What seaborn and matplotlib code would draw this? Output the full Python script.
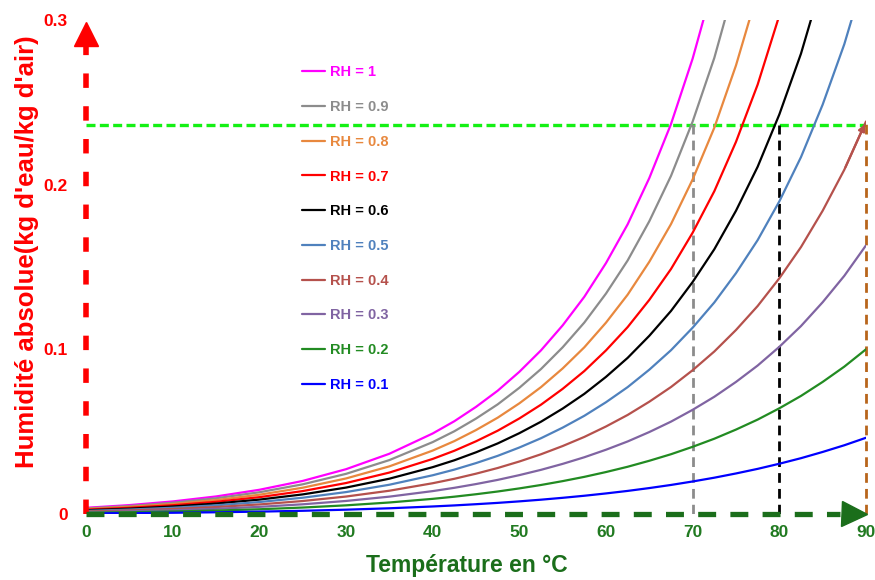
import matplotlib.pyplot as plt
import pandas as pd
import seaborn as sns

# temperatures (°C) and absolute humidity (kg water / kg dry air)
temperature = [0, 5, 10, 15, 20, 25, 30, 35, 40, 42.5, 45, 47.5, 50, 52.5, 55, 57.5, 60, 62.5,
               65, 67.5, 70, 72.5, 75, 77.5, 80, 82.5, 85, 87.5, 90]

rh_10 = [0.00038, 0.00054, 0.00075, 0.00105, 0.00144, 0.00195, 0.00262, 0.00347, 0.00457, 0.00521,
         0.00595, 0.00675, 0.00767, 0.00869, 0.00983, 0.01108, 0.01249, 0.01402, 0.01575, 0.01764,
         0.01975, 0.02205, 0.02462, 0.02741, 0.03052, 0.0339, 0.03768, 0.04175, 0.04629]
rh_20 = [0.00075, 0.00107, 0.00151, 0.0021, 0.00288, 0.00392, 0.00526, 0.00699, 0.0092, 0.01051,
         0.012, 0.01366, 0.01554, 0.01762, 0.01997, 0.02256, 0.02548, 0.02869, 0.03233, 0.0363,
         0.04081, 0.04572, 0.05127, 0.05734, 0.06419, 0.07171, 0.08021, 0.0895, 0.10002]
rh_30 = [0.00113, 0.00161, 0.00227, 0.00316, 0.00434, 0.00589, 0.00792, 0.01054, 0.0139, 0.0159,
         0.01818, 0.02071, 0.02361, 0.02682, 0.03044, 0.03446, 0.03903, 0.04406, 0.04978, 0.05609,
         0.06328, 0.0712, 0.08021, 0.09016, 0.10152, 0.11414, 0.12861, 0.14466, 0.16314]
rh_40 = [0.0015, 0.00215, 0.00303, 0.00422, 0.0058, 0.00788, 0.0106, 0.01413, 0.01868, 0.02138,
         0.02448, 0.02793, 0.03188, 0.03628, 0.04127, 0.04681, 0.05315, 0.06016, 0.0682, 0.07711,
         0.08734, 0.0987, 0.11175, 0.12632, 0.14314, 0.16211, 0.18417, 0.20909, 0.23836]
rh_50 = [0.00188, 0.00269, 0.00379, 0.00528, 0.00726, 0.00988, 0.01331, 0.01777, 0.02352, 0.02695,
         0.03091, 0.03531, 0.04037, 0.04602, 0.05245, 0.05964, 0.06788, 0.07706, 0.08765, 0.09947,
         0.11315, 0.12847, 0.14626, 0.16634, 0.18985, 0.21676, 0.24862, 0.28535, 0.32953]
rh_60 = [0.00226, 0.00323, 0.00455, 0.00634, 0.00874, 0.0119, 0.01604, 0.02144, 0.02844, 0.03262,
         0.03746, 0.04285, 0.04908, 0.05605, 0.06402, 0.07296, 0.08328, 0.09483, 0.10823, 0.12331,
         0.1409, 0.1608, 0.18417, 0.21089, 0.24264, 0.27959, 0.32427, 0.37701, 0.4423]
rh_70 = [0.00263, 0.00377, 0.00532, 0.0074, 0.01022, 0.01392, 0.0188, 0.02516, 0.03344, 0.0384,
         0.04415, 0.05058, 0.05802, 0.06639, 0.076, 0.08682, 0.09937, 0.11352, 0.13004, 0.14878,
         0.17084, 0.19605, 0.22602, 0.26078, 0.30276, 0.35261, 0.4143, 0.48927, 0.5854]
rh_80 = [0.00301, 0.00431, 0.00608, 0.00847, 0.0117, 0.01596, 0.02158, 0.02892, 0.03851, 0.04427,
         0.05097, 0.05848, 0.0672, 0.07705, 0.0884, 0.10124, 0.11622, 0.13321, 0.15319, 0.17605,
         0.20321, 0.23462, 0.27245, 0.31702, 0.37187, 0.43849, 0.5233, 0.62994, 0.7729]
rh_90 = [0.00339, 0.00485, 0.00685, 0.00956, 0.0132, 0.01802, 0.02438, 0.03273, 0.04366, 0.05025,
         0.05794, 0.06657, 0.07664, 0.08804, 0.10124, 0.11627, 0.13388, 0.15398, 0.17782, 0.20532,
         0.23835, 0.27701, 0.32427, 0.38091, 0.45214, 0.541, 0.6579, 0.81141, 1.0294]
rh_100 = [0.00377, 0.0054, 0.00763, 0.01065, 0.0147, 0.02008, 0.0272, 0.03658, 0.04889, 0.05634,
          0.06505, 0.07486, 0.08634, 0.09939, 0.11456, 0.13192, 0.15239, 0.17593, 0.20406, 0.23682,
          0.27661, 0.32381, 0.38245, 0.45414, 0.54652, 0.66539, 0.8283, 1.05441, 1.4016]

rh_labels = ['RH = 1', 'RH = 0.9', 'RH = 0.8', 'RH = 0.7', 'RH = 0.6',
             'RH = 0.5', 'RH = 0.4', 'RH = 0.3', 'RH = 0.2', 'RH = 0.1']
rh_series = [rh_100, rh_90, rh_80, rh_70, rh_60, rh_50, rh_40, rh_30, rh_20, rh_10]
rh_colors = ['#ff00ff', '#8c8c8c', '#e8883e', '#ff0000', '#000000',
             '#4f81bd', '#b5514c', '#8064a2', '#228b22', '#0000ff']

target_level = 0.236            # dashed green reference level
marked_temps = [70, 80, 90]     # vertical dashed markers
marked_colors = ['#8c8c8c', '#000000', '#b8651b']

# long table for seaborn
rows = []
for label, values in zip(rh_labels, rh_series):
    for t, v in zip(temperature, values):
        rows.append({'T': t, 'AH': v, 'RH': label})
df = pd.DataFrame(rows)

sns.set_style('white')
plt.rcParams['font.family'] = ['Liberation Sans', 'DejaVu Sans']
plt.rcParams['font.weight'] = 'bold'

red = '#ff0000'
dkgreen = '#1b6e1b'

fig = plt.figure(figsize=(8.75, 5.8), dpi=100)
ax = fig.add_axes([0.0983, 0.1138, 0.8914, 0.8517])

sns.lineplot(data=df, x='T', y='AH', hue='RH', hue_order=rh_labels,
             palette=rh_colors, linewidth=1.6, ax=ax, zorder=3)

ax.set_xlim(0, 90)
ax.set_ylim(0, 0.3)
for s in ax.spines.values():
    s.set_visible(False)

# reference dashed lines
i70 = temperature.index(70)
ax.plot([0, 90], [target_level, target_level], color='#14f014', lw=2.4,
        dashes=(2.7, 1.3), zorder=2)
ax.plot([marked_temps[0]] * 2, [0, rh_90[i70]], color=marked_colors[0], lw=2, dashes=(3.5, 2.2), zorder=2)
ax.plot([marked_temps[1]] * 2, [0, target_level], color=marked_colors[1], lw=2, dashes=(3.5, 2.2), zorder=2)
ax.plot([marked_temps[2]] * 2, [0, rh_40[-1]], color=marked_colors[2], lw=2, dashes=(3.5, 2.2),
        zorder=2, clip_on=False)
ax.annotate('', xy=(90, rh_40[-1]), xytext=(temperature[-2], rh_40[-2]),
            arrowprops=dict(arrowstyle='-|>', color=rh_colors[6], lw=1.6, mutation_scale=10))

# dashed arrow axes
ax.plot([0, 0], [0, 0.285], color=red, lw=4, dashes=(2.6, 3.3), clip_on=False, zorder=4)
ax.plot([0], [0.2915], marker='^', color=red, markersize=17, clip_on=False, zorder=4)
ax.plot([0, 87], [0, 0], color=dkgreen, lw=3.8, dashes=(3.4, 2.7), clip_on=False, zorder=4)
ax.plot([88.6], [0], marker='>', color=dkgreen, markersize=18, clip_on=False, zorder=4)

ax.set_xticks(range(0, 91, 10))
ax.set_yticks([0, 0.1, 0.2, 0.3])
ax.set_yticklabels(['0', '0.1', '0.2', '0.3'])
ax.tick_params(axis='y', colors=red, labelsize=12.5, direction='in', length=3, width=2, pad=13)
ax.tick_params(axis='x', colors='#217a21', labelsize=12.5, direction='in', length=3, width=2, pad=8)

ax.set_xlabel('Température en °C', fontsize=16.5, color=dkgreen, fontweight='bold')
ax.xaxis.set_label_coords(0.488, -0.08)
ax.set_ylabel("Humidité absolue(kg d'eau/kg d'air)", fontsize=18.5, color=red, fontweight='bold')
ax.yaxis.set_label_coords(-0.06, 0.53)

h, l = ax.get_legend_handles_labels()
ax.legend(h, l, loc='upper left', bbox_to_anchor=(0.277, 0.908), frameon=False,
          prop={'size': 10.5, 'weight': 'bold'}, labelcolor='linecolor',
          handlelength=1.58, handletextpad=0.34, labelspacing=1.42,
          borderaxespad=0, borderpad=0)

fig.savefig('out.png', dpi=100)
